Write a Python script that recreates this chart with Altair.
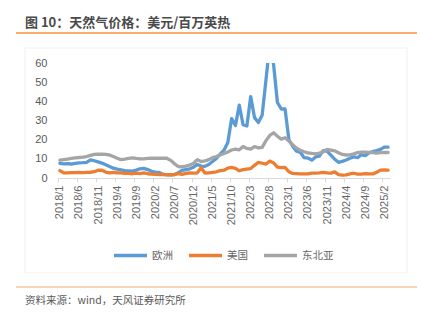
import altair as alt
import pandas as pd

# ---- data ----
months = [f"{y}/{m}" for y in range(2018, 2026) for m in range(1, 13)][:87]

europe = [7.6, 7.4, 7.5, 7.3, 7.6, 7.9, 8.0, 8.2, 9.5, 9.0, 8.4, 7.8,
          6.9, 6.0, 5.1, 4.6, 4.2, 3.8, 3.7, 3.6, 4.1, 4.8, 5.0, 4.4,
          3.5, 3.1, 2.9, 2.0, 1.6, 1.7, 1.8, 2.7, 4.0, 4.4, 4.8, 5.6,
          7.1, 6.2, 6.1, 7.0, 8.6, 10.2, 12.5, 14.5, 18.5, 31.0, 27.4, 38.0,
          27.8, 27.1, 42.5, 31.5, 28.9, 32.8, 51.2, 70.0, 59.1, 39.4, 36.0, 36.0,
          20.0, 16.6, 14.0, 13.4, 10.6, 10.4, 9.3, 11.0, 11.4, 14.3, 14.0, 11.9,
          9.8, 8.2, 8.7, 9.4, 10.3, 11.0, 10.6, 12.2, 11.7, 13.1, 13.8, 14.3,
          14.9, 16.1, 16.1]

usa = [3.87, 2.67, 2.69, 2.80, 2.80, 2.97, 2.83, 2.96, 3.00, 3.28, 4.09, 4.04,
       3.11, 2.69, 2.95, 2.65, 2.64, 2.40, 2.37, 2.22, 2.56, 2.33, 2.65, 2.22,
       2.02, 1.91, 1.79, 1.74, 1.75, 1.63, 1.77, 2.30, 1.92, 2.39, 2.61, 2.59,
       2.71, 5.35, 2.62, 2.66, 2.91, 3.26, 3.84, 4.07, 5.16, 5.51, 5.05, 3.76,
       4.38, 4.69, 4.90, 6.60, 8.14, 7.70, 7.28, 8.81, 7.88, 5.66, 5.45, 5.53,
       3.27, 2.38, 2.31, 2.16, 2.15, 2.18, 2.55, 2.58, 2.64, 2.98, 2.71, 2.52,
       3.18, 1.72, 1.49, 1.60, 2.12, 2.48, 2.04, 1.99, 2.28, 2.20, 2.12, 3.01,
       4.13, 4.19, 4.12]

neasia = [9.3, 9.6, 9.9, 10.2, 10.5, 10.7, 10.9, 11.2, 11.8, 12.3, 12.4, 12.4,
          12.3, 12.0, 11.2, 10.3, 9.6, 9.8, 10.2, 10.5, 10.2, 10.0, 10.0, 10.2,
          10.3, 10.3, 10.3, 10.3, 10.3, 9.2, 7.5, 6.0, 5.8, 6.2, 6.8, 7.6,
          9.6, 8.6, 8.9, 9.6, 10.6, 11.2, 12.0, 12.8, 13.6, 14.6, 15.1, 14.7,
          16.4, 15.4, 15.1, 16.4, 15.7, 16.0, 19.5, 22.2, 23.6, 21.8, 20.3, 21.0,
          19.3, 17.4, 15.6, 14.4, 13.7, 13.1, 12.8, 12.6, 13.0, 13.6, 14.9, 14.6,
          14.2, 13.2, 12.3, 12.0, 12.1, 12.6, 13.2, 13.5, 13.5, 13.4, 13.2, 13.0,
          13.2, 13.3, 13.3]

series_names = ["欧洲", "美国", "东北亚"]
colors = ["#5B9BD5", "#ED7D31", "#A5A5A5"]
tick_labels = ["2018/1", "2018/6", "2018/11", "2019/4", "2019/9", "2020/2",
               "2020/7", "2020/12", "2021/5", "2021/10", "2022/3", "2022/8",
               "2023/1", "2023/6", "2023/11", "2024/4", "2024/9", "2025/2"]
y_ticks = [0, 10, 20, 30, 40, 50, 60]

title_text = "图 10：天然气价格：美元/百万英热"
source_text = "资料来源：wind，天风证券研究所"

rows = []
for name, vals in zip(series_names, [europe, usa, neasia]):
    for i, v in enumerate(vals):
        rows.append({"i": i, "month": months[i], "series": name, "value": v})
df = pd.DataFrame(rows)

W, H = 332, 115
band = W / len(months)
label_expr = "[" + ",".join(f"'{t}'" for t in tick_labels) + "][round(datum.value/5)]"

CJK = "Noto Sans CJK SC"
LAT = "Liberation Sans"

lines = alt.Chart(df).mark_line(strokeWidth=3.3, clip=True, strokeJoin="round", strokeCap="round").encode(
    x=alt.X("i:Q",
            scale=alt.Scale(domain=[-0.5, len(months) - 0.5], nice=False, zero=False),
            axis=alt.Axis(values=[k * 5 for k in range(len(tick_labels))], labelExpr=label_expr,
                          labelAngle=270, tickOffset=-band / 2, labelOffset=band / 2,
                          domainColor="#D9D9D9", tickColor="#D9D9D9", tickSize=4,
                          labelColor="#666666", labelFontSize=11, labelFont=LAT,
                          labelPadding=3, grid=False, title=None,
                          labelFlush=False, labelOverlap=False)),
    y=alt.Y("value:Q", scale=alt.Scale(domain=[0, 60], nice=False),
            axis=alt.Axis(values=y_ticks, domain=False, ticks=False, grid=False,
                          labelPadding=11, labelColor="#595959", labelFontSize=11,
                          labelFont=LAT, title=None)),
    color=alt.Color("series:N", sort=series_names,
                    scale=alt.Scale(domain=series_names, range=colors),
                    legend=alt.Legend(orient="none", legendX=54, legendY=174,
                                      direction="horizontal", title=None,
                                      symbolType="stroke", symbolSize=1089,
                                      symbolStrokeWidth=3.5, labelFontSize=10.5,
                                      labelColor="#666666", labelFont=CJK,
                                      gridAlign="none", columnPadding=9, labelOffset=3)),
    detail="series:N",
)

one = pd.DataFrame({"t": [title_text], "s": [source_text]})

border = alt.Chart(one).mark_rect(fillOpacity=0, stroke="#EFEFEF", strokeWidth=1).encode(
    x=alt.value(-33), x2=alt.value(349), y=alt.value(-15), y2=alt.value(210))

title = alt.Chart(one).mark_text(align="left", baseline="middle", fontSize=13,
                                 fontWeight="bold", font=CJK, color="#4A4A4A").encode(
    x=alt.value(-33), y=alt.value(-40), text="t:N")

top_rule = alt.Chart(one).mark_rule(color="#F5913E", strokeWidth=1.5).encode(
    x=alt.value(-42), x2=alt.value(359), y=alt.value(-30))

bottom_rule = alt.Chart(one).mark_rule(color="#F4A86A", strokeWidth=1.2).encode(
    x=alt.value(-42), x2=alt.value(359), y=alt.value(224))

source = alt.Chart(one).mark_text(align="left", baseline="middle", fontSize=10.5,
                                  font=CJK, color="#595959").encode(
    x=alt.value(-33), y=alt.value(238), text="s:N")

chart = alt.layer(border, lines, title, top_rule, bottom_rule, source).properties(
    width=W, height=H,
    padding={"left": 58, "top": 63, "right": 31, "bottom": 144},
    autosize=alt.AutoSizeParams(type="none"),
    background="white",
).configure_view(stroke=None)

chart.save("out.html", embed_options={"renderer": "svg", "actions": False})
